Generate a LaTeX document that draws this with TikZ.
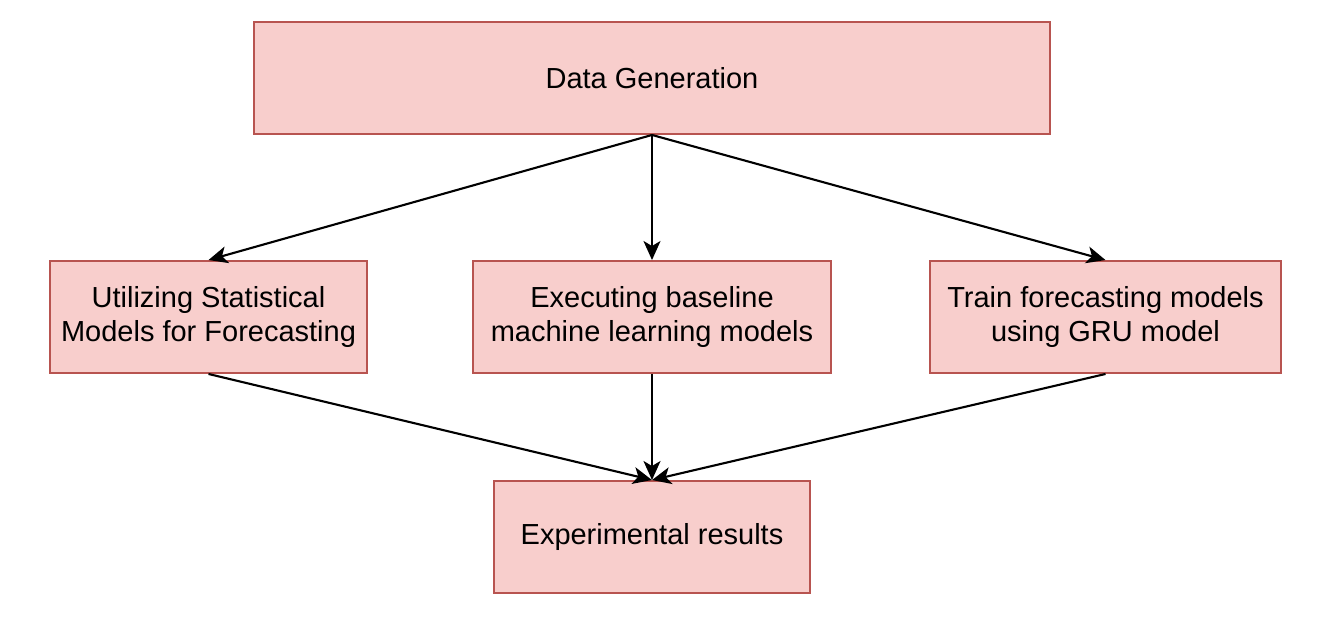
\documentclass[tikz,border=0pt]{standalone}
\usepackage{fontspec}
\setmainfont{Liberation Sans}
\usetikzlibrary{arrows.meta}
\usetikzlibrary{positioning}
\definecolor{boxfill}{HTML}{F8CECC}
\definecolor{boxline}{HTML}{B85450}

\begin{document}
\begin{tikzpicture}[line width=1.1pt,
    stage/.style={draw=boxline, fill=boxfill, minimum height=2.24cm, align=center,
        font=\fontsize{16.5}{18.8}\selectfont},
    flow/.style={-{Stealth[length=0.38cm, width=0.34cm, inset=0.1cm]}, black, line width=1.2pt}
    ]
\edef\h{-6.34}

\useasboundingbox (0,0) rectangle (26.52,-12.56);

\node [stage, minimum width=15.92cm] (gen) at (13.04,-1.56) {Data Generation};
\node [stage, minimum width=6.34cm] (stat) at (4.17,\h) {Utilizing Statistical\\Models for Forecasting};
\node [stage, minimum width=7.16cm] (base) at (13.04,\h) {Executing baseline\\machine learning models};
\node [stage, minimum width=7.02cm] (gru) at (22.11,\h) {Train forecasting models\\using GRU model};
\node [stage, minimum width=6.32cm] (res) at (13.04,-10.74) {Experimental results};

\draw [flow] (gen.south) -- (stat.north);
\draw [flow] (gen.south) -- (base.north);
\draw [flow] (gen.south) -- (gru.north);

\draw [flow] (stat.south) -- (res.north);
\draw [flow] (base.south) -- (res.north);
\draw [flow] (gru.south) -- (res.north);
\end{tikzpicture}
\end{document}
